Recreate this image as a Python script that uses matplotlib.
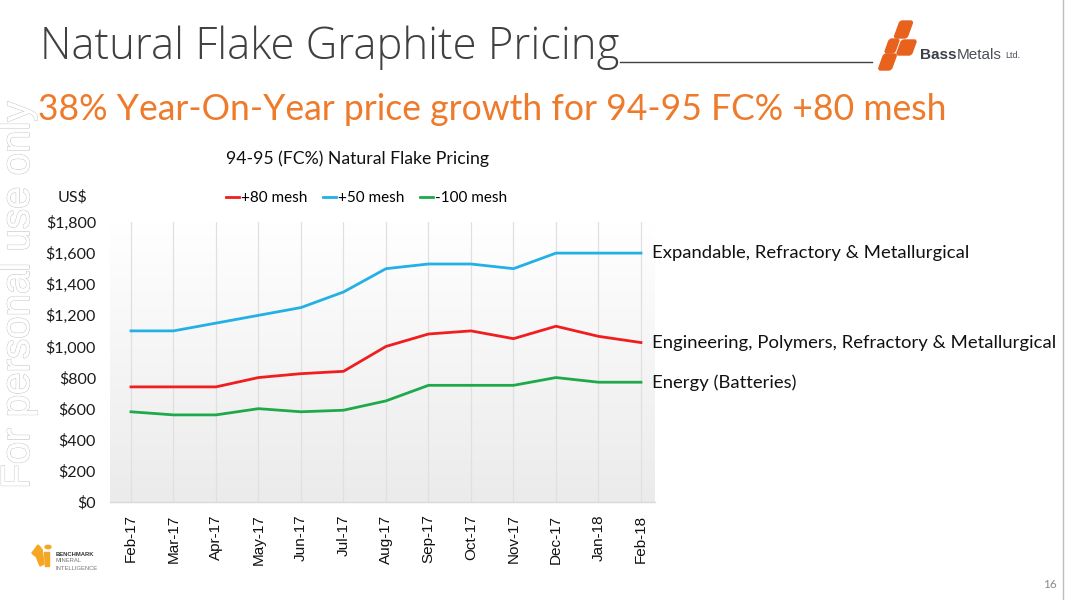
import matplotlib
matplotlib.use("Agg")
import matplotlib.pyplot as plt
import numpy as np
from matplotlib.colors import LinearSegmentedColormap
from matplotlib.patches import Polygon, FancyBboxPatch
from matplotlib.lines import Line2D
import matplotlib.patheffects as pe
from matplotlib.transforms import Affine2D

# ---------------- data ----------------
months = ['Feb-17', 'Mar-17', 'Apr-17', 'May-17', 'Jun-17', 'Jul-17', 'Aug-17',
          'Sep-17', 'Oct-17', 'Nov-17', 'Dec-17', 'Jan-18', 'Feb-18']
mesh80 = [740, 740, 740, 800, 825, 840, 1000, 1080, 1100, 1050, 1130, 1065, 1025]
mesh50 = [1100, 1100, 1150, 1200, 1250, 1350, 1500, 1530, 1530, 1500, 1600, 1600, 1600]
mesh100 = [580, 560, 560, 600, 580, 590, 650, 750, 750, 750, 800, 770, 770]
series_names = ['+80 mesh', '+50 mesh', '-100 mesh']
series_labels = ['Engineering, Polymers, Refractory & Metallurgical',
                 'Expandable, Refractory & Metallurgical',
                 'Energy (Batteries)']
yticks = [0, 200, 400, 600, 800, 1000, 1200, 1400, 1600, 1800]

colors = ['#F01E1E', '#22B0E6', '#1EAA4A']

W, H = 1067, 600
fig = plt.figure(figsize=(W / 100, H / 100), dpi=100)
fig.patch.set_facecolor('white')


def fx(x):
    return x / W


def fy(y):
    return 1 - y / H


# ---------------- axes ----------------
ax_l, ax_r, ax_t, ax_b = 110, 655, 222, 502
ax = fig.add_axes([fx(ax_l), fy(ax_b), fx(ax_r) - fx(ax_l), (ax_b - ax_t) / H])
xmin, xmax = -0.494, 12.33
ax.set_xlim(xmin, xmax)
ax.set_ylim(0, 1800)

cmap = LinearSegmentedColormap.from_list('bg', ['#ebebeb', '#ffffff'])
grad = np.linspace(0, 1, 256).reshape(-1, 1)
ax.imshow(grad, cmap=cmap, extent=[xmin, xmax, 0, 1800], aspect='auto',
          origin='lower', zorder=0)

x = np.arange(len(months))
ax.set_xticks(x)
ax.set_xticklabels(months, rotation=90, fontsize=11, family='Liberation Sans',
                   color='#111111')
ax.set_yticks(yticks)
ax.set_yticklabels(['${:,}'.format(v) for v in yticks], fontsize=11.5,
                   family='Lato', color='#1a1a1a')
ax.tick_params(axis='both', length=0)
ax.tick_params(axis='x', pad=9)
ax.tick_params(axis='y', pad=10)
ax.grid(axis='x', color='#e0e0e0', lw=0.9, zorder=1)
ax.grid(axis='y', visible=False)
for s in ['top', 'right', 'left']:
    ax.spines[s].set_visible(False)
ax.spines['bottom'].set_color('#d9d9d9')
ax.spines['bottom'].set_linewidth(1.0)

lines = []
for vals, c, nm, lbl in zip([mesh80, mesh50, mesh100], colors, series_names, series_labels):
    ln, = ax.plot(x, vals, color=c, lw=2.0, label=nm, zorder=3, solid_joinstyle='round')
    lines.append(ln)
    ax.annotate(lbl, xy=(x[-1], vals[-1]), xytext=(8, 0), textcoords='offset points',
                va='center', ha='left', fontsize=13.3, family='Lato', color='#111111',
                annotation_clip=False)

# legend
fig.legend(handles=lines, loc='center left', bbox_to_anchor=(fx(226), fy(198)),
           ncol=3, frameon=False, handlelength=0.85, handletextpad=0.15,
           columnspacing=1.0, borderpad=0, borderaxespad=0,
           prop={'family': 'Lato', 'size': 11})

# chart title and US$
fig.text(fx(358), fy(159), '94-95 (FC%) Natural Flake Pricing', ha='center', va='center',
         fontsize=12.7, family='Lato', color='#111111')
fig.text(fx(87), fy(197), 'US$', ha='right', va='center', fontsize=11.5, family='Lato',
         color='#1a1a1a')

# ---------------- slide decorations ----------------
renderer = fig.canvas.get_renderer()
tt = fig.text(fx(40), fy(48), 'Natural Flake Graphite Pricing', ha='left', va='center',
              fontsize=31.4, family='Open Sans', fontweight='light', color='#404040')
tb = tt.get_window_extent(renderer)
fig.add_artist(Line2D([tb.x1 / W + 0.001, fx(872)], [fy(62), fy(62)], color='#404040', lw=1.0))

fig.text(fx(38), fy(110), '38% Year-On-Year price growth for 94-95 FC% +80 mesh',
         ha='left', va='center', fontsize=25.6, family='Lato', color='#EE7A2B')

wm = fig.text(fx(18), fy(295), 'For personal use only', rotation=90, ha='center',
              va='center', fontsize=29, family='Liberation Sans', color='white')
wm.set_path_effects([pe.withStroke(linewidth=1.0, foreground='#cacaca'),
                     pe.Normal()])

# Bass Metals logo (pixel coords, y down)
orange = '#E8621E'
pix = Affine2D().scale(1, -1).translate(0, H)


def block(x0, y0, w, h):
    cx, cy = x0 + w / 2, y0 + h / 2
    p = FancyBboxPatch((x0, y0), w, h,
                       boxstyle='round,pad=0,rounding_size=2.5', color=orange)
    t = Affine2D().translate(-cx, -cy).skew_deg(-20, 0).translate(cx, cy) + pix
    p.set_transform(t)
    return p


fig.add_artist(block(897, 21, 13, 17))
fig.add_artist(block(887, 39, 10, 14))
fig.add_artist(block(899, 40, 15, 15))
fig.add_artist(block(881, 54, 13, 16))

t1 = fig.text(fx(920), fy(55), 'Bass', ha='left', va='center', fontsize=11,
              family='Liberation Sans', fontweight='bold', color='#3b4048')
bb = t1.get_window_extent(renderer)
t2 = fig.text(bb.x1 / W + 0.0005, fy(55), 'Metals', ha='left', va='center', fontsize=11,
              family='Liberation Sans', color='#4a4f58')
bb2 = t2.get_window_extent(renderer)
fig.text(bb2.x1 / W + 0.003, fy(56), 'Ltd.', ha='left', va='center', fontsize=6.5,
         family='Liberation Sans', color='#4a4f58')

# Benchmark logo
by = '#F5A623'
fig.add_artist(Polygon([(fx(a), fy(b)) for a, b in [(32, 553), (38, 545), (41, 548), (35, 556)]],
                       closed=True, color=by, transform=fig.transFigure))
fig.add_artist(Polygon([(fx(a), fy(b)) for a, b in [(36, 556), (42, 549), (44, 564), (40, 566)]],
                       closed=True, color=by, transform=fig.transFigure))
fig.add_artist(Polygon([(fx(a), fy(b)) for a, b in [(44, 552), (49, 552), (49, 566), (45, 566)]],
                       closed=True, color=by, transform=fig.transFigure))
fig.add_artist(plt.Circle((fx(48), fy(547)), 0.0028, color=by, transform=fig.transFigure))
fig.text(fx(56), fy(554), 'BENCHMARK', ha='left', va='center', fontsize=4.2,
         family='Liberation Sans', fontweight='bold', color='#333333')
fig.text(fx(56), fy(561), 'MINERAL', ha='left', va='center', fontsize=4.2,
         family='Liberation Sans', color='#777777')
fig.text(fx(56), fy(568), 'INTELLIGENCE', ha='left', va='center', fontsize=4.2,
         family='Liberation Sans', color='#777777')

fig.text(fx(1057), fy(584), '16', ha='right', va='center', fontsize=8.5,
         family='Lato', color='#8c8c8c')
fig.add_artist(Line2D([fx(1063), fx(1063)], [0, 1], color='#bdbdbd', lw=1.0))

fig.savefig('out.png', dpi=100)
